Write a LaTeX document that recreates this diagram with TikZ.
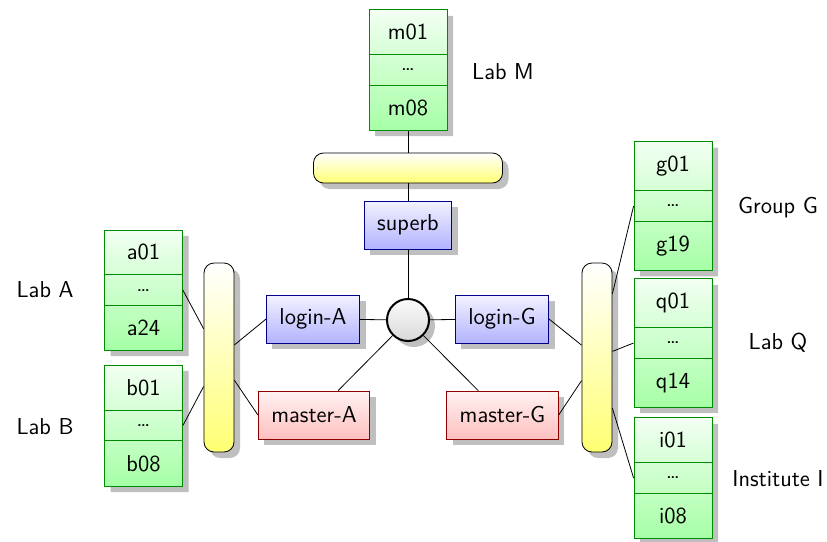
\documentclass[tikz,border=0pt]{standalone}
\usepackage{tikz}
\usetikzlibrary{shapes,shadows,positioning}

\begin{document}
\begin{tikzpicture}[x=0.5pt,y=-0.5pt,font=\fontsize{11.5}{14}\sffamily,
  rack/.style={rectangle split, rectangle split parts=3,
    draw=green!55!black, top color=green!5, bottom color=green!35,
    minimum width=39pt, inner ysep=7pt,
    drop shadow={shadow xshift=3pt,shadow yshift=-3pt}},
  bus/.style={draw, rounded corners=5pt, inner sep=0pt,
    top color=white, bottom color=yellow!55,
    drop shadow={shadow xshift=3pt,shadow yshift=-3pt}},
  hbus/.style={bus, minimum width=94.5pt, minimum height=15pt},
  vbus/.style={bus, minimum width=15pt, minimum height=94.5pt},
  login/.style={draw=blue!55!black, top color=blue!5, bottom color=blue!30,
    minimum height=24pt, inner xsep=6.5pt,
    drop shadow={shadow xshift=3pt,shadow yshift=-3pt}},
  master/.style={draw=red!55!black, top color=red!5, bottom color=red!25,
    minimum height=24pt, inner xsep=6.5pt,
    drop shadow={shadow xshift=3pt,shadow yshift=-3pt}},
  hub/.style={circle, draw, line width=1pt, minimum size=21pt,
    top color=gray!3, bottom color=gray!30,
    drop shadow={shadow xshift=3pt,shadow yshift=-3pt}}]
\useasboundingbox (0,0) rectangle (827,542);

\node (labM) [rack] at (408,70) {m01 \nodepart{two} \dots \nodepart{three} m08};
\node (busM) [hbus] at (408,168) {};
\node (superb) [login] at (408,225) {superb};
\node (hub) [hub] at (408,320) {};
\node (loginA) [login] at (313,319) {login-A};
\node (loginG) [login] at (502,319) {login-G};
\node (masterA) [master] at (314,415) {master-A};
\node (masterG) [master] at (502.5,415) {master-G};
\node (busA) [vbus] at (219,357.5) {};
\node (busG) [vbus] at (597,357.5) {};

\node (labA) [rack] at (143.5,290) {a01 \nodepart{two} \dots \nodepart{three} a24};
\node (labB) [rack] at (143.5,425.5) {b01 \nodepart{two} \dots \nodepart{three} b08};
\node (groupG) [rack] at (673,206) {g01 \nodepart{two} \dots \nodepart{three} g19};
\node (labQ) [rack] at (673,343) {q01 \nodepart{two} \dots \nodepart{three} q14};
\node (instI) [rack] at (673,478) {i01 \nodepart{two} \dots \nodepart{three} i08};

\node (nameM) at (503,72) {Lab M};
\node (nameA) at (45,290) {Lab A};
\node (nameB) at (45,427) {Lab B};
\node (nameG) at (778,208) {Group G};
\node (nameQ) at (778,343) {Lab Q};
\node (nameI) at (778,479) {Institute I};

\draw (labM) -- (busM) -- (superb) -- (hub);
\draw (loginA) -- (hub) -- (loginG)
(masterA) -- (hub) -- (masterG);
\draw (labA.two east) -- (busA)
(labB.two east) -- (busA)
(loginA.west) -- (busA)
(masterA.west) -- (busA);
\draw (loginG.east) -- (busG)
(masterG.east) -- (busG)
(groupG.two west) -- (busG)
(labQ.two west) -- (busG)
(instI.two west) -- (busG);
\end{tikzpicture}
\end{document}
